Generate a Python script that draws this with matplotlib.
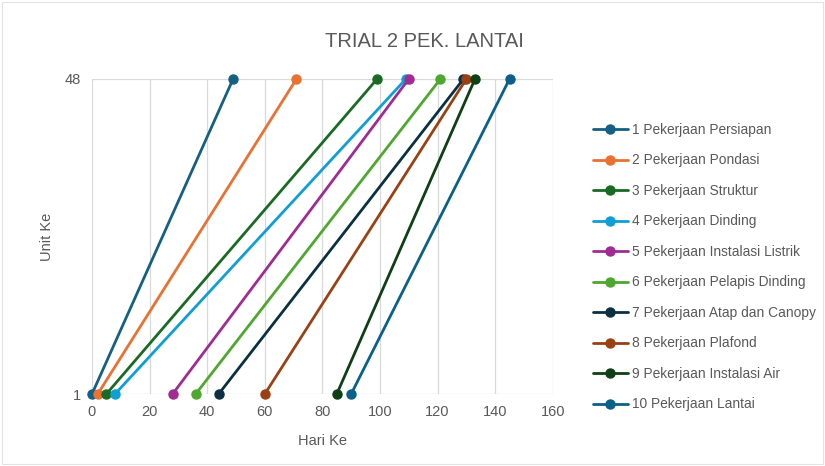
import matplotlib.pyplot as plt
from matplotlib.patches import Rectangle

# Jadwal pekerjaan: hari mulai (unit 1) dan hari selesai (unit 48)
pekerjaan = [
    '1 Pekerjaan Persiapan',
    '2 Pekerjaan Pondasi',
    '3 Pekerjaan Struktur',
    '4 Pekerjaan Dinding',
    '5 Pekerjaan Instalasi Listrik',
    '6 Pekerjaan Pelapis Dinding',
    '7 Pekerjaan Atap dan Canopy',
    '8 Pekerjaan Plafond',
    '9 Pekerjaan Instalasi Air',
    '10 Pekerjaan Lantai',
]
hari_mulai = [0, 2, 5, 8, 28, 36, 44, 60, 85, 90]
hari_selesai = [49, 71, 99, 109, 110, 121, 129, 130, 133, 145]
unit = [1, 48]

warna = ['#156082', '#E97132', '#196B24', '#0F9ED5', '#A02B93',
         '#4EA72E', '#0B3041', '#9A4114', '#0F4015', '#0A6088']

abu = '#595959'
plt.rcParams['font.family'] = ['Liberation Sans', 'DejaVu Sans']

fig = plt.figure(figsize=(8.25, 4.66), dpi=100)
ax = fig.add_axes([0.1115, 0.1545, 0.5585, 0.676])

for nama, a, b, c in zip(pekerjaan, hari_mulai, hari_selesai, warna):
    ax.plot([a, b], unit, color=c, lw=2, marker='o', markersize=6.5,
            label=nama, solid_capstyle='round', zorder=3, clip_on=False)

ax.set_xlim(0, 160)
ax.set_ylim(1, 48)
ax.set_xticks(range(0, 161, 20))
ax.set_yticks(unit)
ax.grid(True, color='#d9d9d9', lw=0.9, zorder=0)
ax.tick_params(length=0, labelsize=10.5, labelcolor=abu, pad=8)
for s in ax.spines.values():
    s.set_visible(False)
ax.set_axisbelow(True)

ax.set_xlabel('Hari Ke', fontsize=10.5, color=abu, labelpad=11)
ax.set_ylabel('Unit Ke', fontsize=10.5, color=abu, labelpad=8)
fig.text(0.515, 0.91, 'TRIAL 2 PEK. LANTAI', ha='center', va='center',
         fontsize=14.5, color=abu)

fig.legend(loc='upper left', bbox_to_anchor=(0.712, 0.748), frameon=False,
           fontsize=9.9, labelcolor=abu, handlelength=2.55, handletextpad=0.3,
           labelspacing=1.2, borderaxespad=0)

# Bingkai tipis di sekeliling grafik
fig.patches.append(Rectangle((0.002, 0.004), 0.996, 0.992, transform=fig.transFigure,
                             fill=False, edgecolor='#e3e3e3', lw=0.8))

fig.savefig('out.png', dpi=100)
